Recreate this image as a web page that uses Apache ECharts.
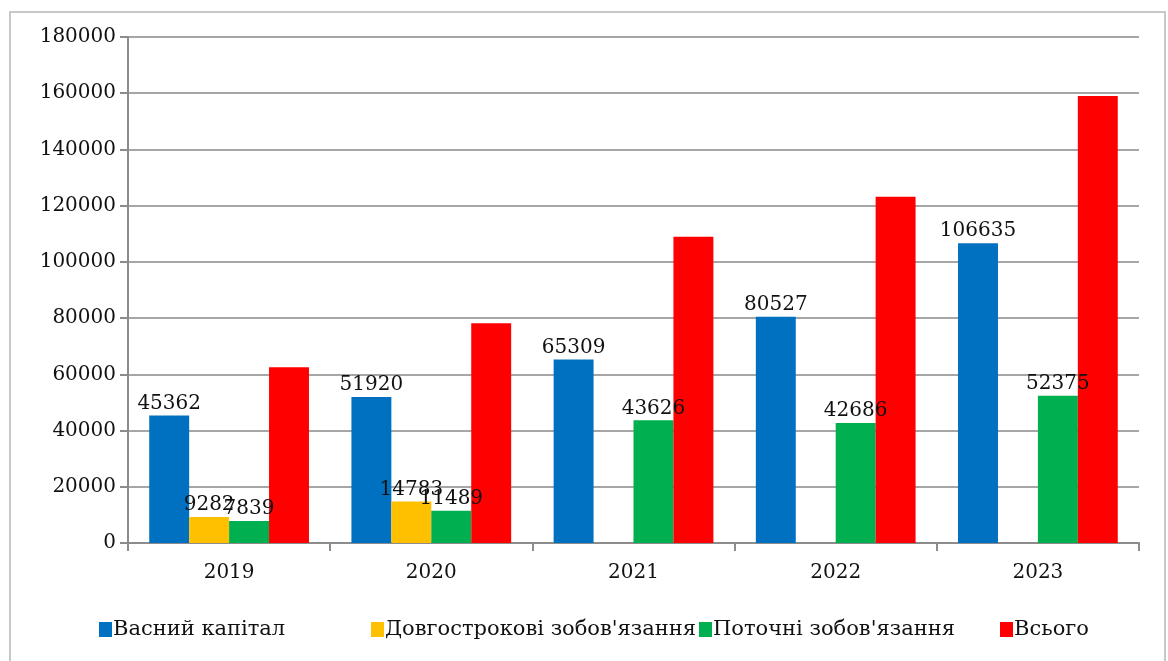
<!DOCTYPE html>
<html>
<head>
<meta charset="utf-8">
<script src="https://cdn.jsdelivr.net/npm/echarts@6/dist/echarts.min.js"></script>
<style>
html,body{margin:0;padding:0;background:#fff;}
#chart{width:1168px;height:661px;}
</style>
</head>
<body>
<div id="chart"></div>
<script>
const categories = ['2019', '2020', '2021', '2022', '2023'];
const seriesNames = ['Васний капітал', "Довгострокові зобов'язання", "Поточні зобов'язання", 'Всього'];
const equity = [45362, 51920, 65309, 80527, 106635];
const longTerm = [9282, 14783, null, null, null];
const current = [7839, 11489, 43626, 42686, 52375];
const total = [62483, 78192, 108935, 123213, 159010];
const yTicks = [0, 20000, 40000, 60000, 80000, 100000, 120000, 140000, 160000, 180000];

const colors = ['#0070C0', '#FFC000', '#00B050', '#FF0000'];
const FONT = 'DejaVu Serif';
const legendLefts = [99, 371, 699, 1000];

const chart = echarts.init(document.getElementById('chart'), null, {renderer: 'canvas'});

function mk(name, data, color, showLabel) {
  return {
    name: name,
    type: 'bar',
    data: data,
    barGap: '0%',
    barCategoryGap: '21%',
    itemStyle: {color: color},
    label: {
      show: showLabel,
      position: 'top',
      distance: 2,
      color: '#111',
      fontFamily: FONT,
      fontSize: 20
    }
  };
}

const legends = seriesNames.map(function (n, i) {
  return {
    data: [n],
    top: 619,
    left: legendLefts[i],
    padding: 0,
    itemWidth: 13,
    itemHeight: 15,
    icon: 'rect',
    textStyle: {fontFamily: FONT, fontSize: 21, color: '#111', padding: [0, 0, 0, -4]}
  };
});

chart.setOption({
  animation: false,
  backgroundColor: '#fff',
  textStyle: {fontFamily: FONT},
  graphic: [{
    type: 'rect',
    shape: {x: 10, y: 12, width: 1155, height: 660},
    style: {fill: 'none', stroke: '#c8c8c8', lineWidth: 2},
    silent: true
  }],
  grid: {left: 128, right: 29, top: 37, bottom: 118, containLabel: false},
  legend: legends,
  xAxis: {
    type: 'category',
    data: categories,
    axisLine: {lineStyle: {color: '#8c8c8c', width: 2}},
    axisTick: {show: true, length: 8, lineStyle: {color: '#8c8c8c', width: 2}},
    axisLabel: {color: '#111', fontFamily: FONT, fontSize: 20, margin: 20}
  },
  yAxis: {
    type: 'value',
    min: yTicks[0],
    max: yTicks[yTicks.length - 1],
    interval: yTicks[1] - yTicks[0],
    axisLine: {show: true, lineStyle: {color: '#8c8c8c', width: 2}},
    axisTick: {show: true, length: 8, lineStyle: {color: '#8c8c8c', width: 2}},
    splitLine: {lineStyle: {color: '#a6a6a6', width: 2}},
    axisLabel: {color: '#111', fontFamily: FONT, fontSize: 20, margin: 12, formatter: function (v) { return String(v); }}
  },
  series: [
    mk(seriesNames[0], equity, colors[0], true),
    mk(seriesNames[1], longTerm, colors[1], true),
    mk(seriesNames[2], current, colors[2], true),
    mk(seriesNames[3], total, colors[3], false)
  ]
});
</script>
</body>
</html>
